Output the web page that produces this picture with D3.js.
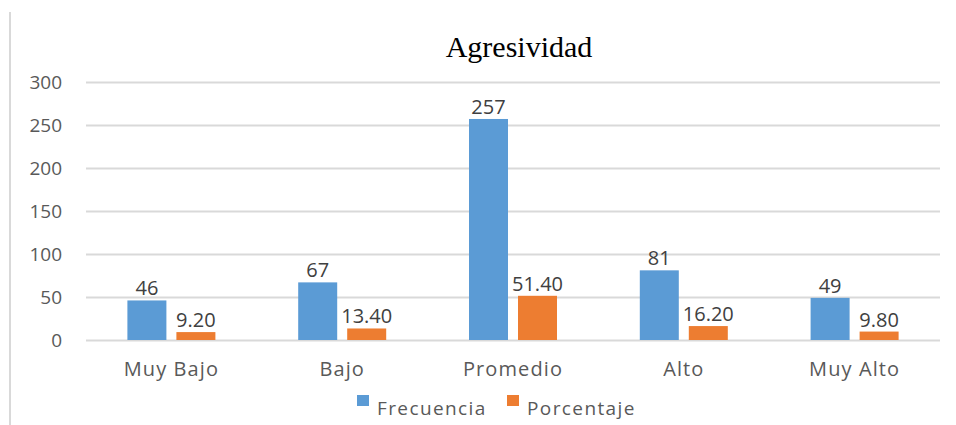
<!DOCTYPE html>
<html><head><meta charset="utf-8">
<script src="https://cdn.jsdelivr.net/npm/d3@7"></script>
<style>body{margin:0;background:#fff}svg{display:block}</style>
</head><body>
<script>
const categories = ["Muy Bajo","Bajo","Promedio","Alto","Muy Alto"];
const frecuencia = [46,67,257,81,49];
const porcentaje = [9.20,13.40,51.40,16.20,9.80];
const seriesNames = ["Frecuencia","Porcentaje"];
const yTicks = [0,50,100,150,200,250,300];

const W=956,H=425;
const m={left:86,right:16,top:82,bottom:85};
const svg=d3.select("body").append("svg").attr("width",W).attr("height",H);
const font="'Open Sans', 'Noto Sans', sans-serif";
const colors=["#5B9BD5","#ED7D31"];

svg.append("line").attr("x1",10).attr("x2",10).attr("y1",12).attr("y2",H)
  .attr("stroke","#D9D9D9").attr("stroke-width",2);

const x=d3.scaleBand().domain(categories).range([m.left,W-m.right]);
const y=d3.scaleLinear().domain([0,300]).range([H-m.bottom,m.top]);
const bw=39, gap=10;

const yAxis=d3.axisLeft(y).tickValues(yTicks).tickSize(-(W-m.right-m.left)).tickFormat(d3.format("d"));
const ga=svg.append("g").attr("transform",`translate(${m.left},0)`).call(yAxis);
ga.select(".domain").remove();
ga.selectAll(".tick line").attr("stroke","#D9D9D9").attr("stroke-width",2);
ga.selectAll(".tick text").attr("x",-24).attr("fill","#595959").attr("font-size",19).attr("font-family",font);

const xAxis=d3.axisBottom(x).tickSize(0);
const gx=svg.append("g").attr("transform",`translate(0,${y(0)})`).call(xAxis);
gx.select(".domain").remove();
gx.selectAll(".tick text").attr("dy",0).attr("y",36).attr("fill","#595959").attr("font-size",20).attr("font-family",font).attr("letter-spacing","1.1px");

const data=categories.map((c,i)=>({c,vals:[frecuencia[i],porcentaje[i]]}));
const groups=svg.append("g").selectAll("g").data(data).join("g")
  .attr("transform",d=>`translate(${x(d.c)+x.bandwidth()/2-(2*bw+gap)/2},0)`);
groups.selectAll("rect").data(d=>d.vals.map((v,j)=>({v,j}))).join("rect")
  .attr("x",d=>d.j*(bw+gap)).attr("width",bw)
  .attr("y",d=>y(d.v)).attr("height",d=>y(0)-y(d.v)).attr("fill",d=>colors[d.j]);
groups.selectAll("text").data(d=>d.vals.map((v,j)=>({v,j}))).join("text")
  .attr("x",d=>d.j*(bw+gap)+bw/2).attr("y",d=>y(d.v)-5)
  .attr("text-anchor","middle").attr("fill","#404040").attr("font-size",20).attr("font-family",font)
  .text(d=>d.j===0?d3.format("d")(d.v):d3.format(".2f")(d.v));

svg.append("text").attr("x",519).attr("y",57).attr("text-anchor","middle")
  .attr("font-family","'Liberation Serif','Times New Roman',serif").attr("font-size",30).attr("fill","#000")
  .text("Agresividad");

const legX=[357,507];
const lg=svg.append("g");
seriesNames.forEach((s,i)=>{
  lg.append("rect").attr("x",legX[i]).attr("y",395).attr("width",12).attr("height",11).attr("fill",colors[i]);
  lg.append("text").attr("x",legX[i]+20).attr("y",415).attr("fill","#595959").attr("font-size",19)
    .attr("font-family",font).attr("letter-spacing","1.4px").text(s);
});
</script>
</body></html>
